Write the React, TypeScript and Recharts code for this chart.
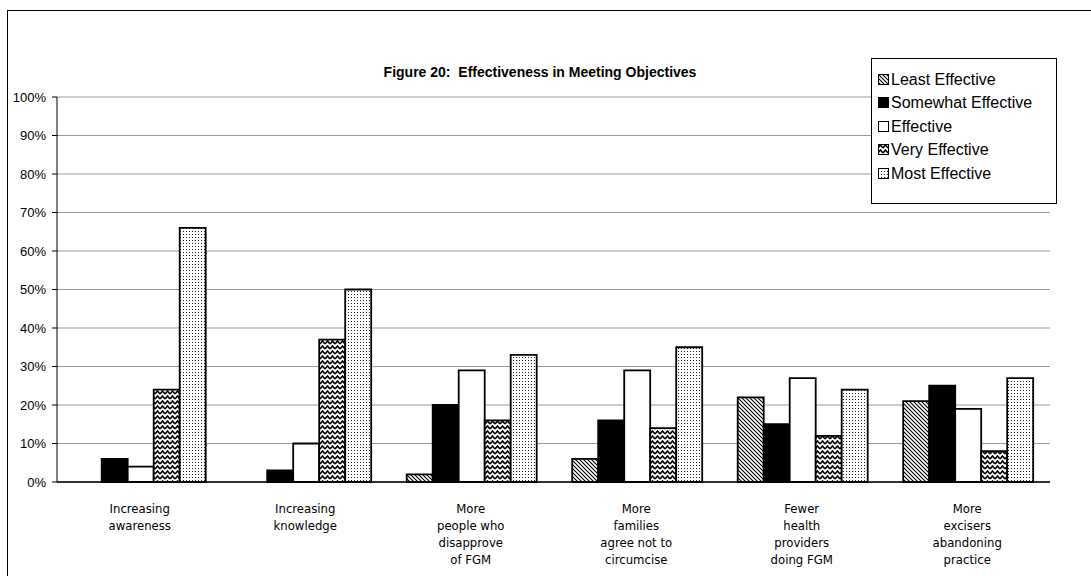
import React from "react";
import { BarChart, Bar, XAxis, YAxis, CartesianGrid, Legend } from "recharts";

const categories = [
  "Increasing\nawareness",
  "Increasing\nknowledge",
  "More\npeople who\ndisapprove\nof FGM",
  "More\nfamilies\nagree not to\ncircumcise",
  "Fewer\nhealth\nproviders\ndoing FGM",
  "More\nexcisers\nabandoning\npractice",
];
const leastEffective = [0, 0, 2, 6, 22, 21];
const somewhatEffective = [6, 3, 20, 16, 15, 25];
const effective = [4, 10, 29, 29, 27, 19];
const veryEffective = [24, 37, 16, 14, 12, 8];
const mostEffective = [66, 50, 33, 35, 24, 27];
const yTicks = [0, 10, 20, 30, 40, 50, 60, 70, 80, 90, 100];

const seriesDefs = [
  { key: "least", name: "Least Effective", fill: "url(#patStripe)" },
  { key: "somewhat", name: "Somewhat Effective", fill: "#000000" },
  { key: "effective", name: "Effective", fill: "#ffffff" },
  { key: "very", name: "Very Effective", fill: "url(#patZig)" },
  { key: "most", name: "Most Effective", fill: "url(#patDots)" },
];

const data = categories.map((c, i) => ({
  category: c,
  least: leastEffective[i],
  somewhat: somewhatEffective[i],
  effective: effective[i],
  very: veryEffective[i],
  most: mostEffective[i],
}));

const FONT = "Arial, 'Liberation Sans', sans-serif";
const NARROW = "'Liberation Sans Narrow', 'Arial Narrow', 'DejaVu Sans Condensed', sans-serif";

const XTick = (props: any) => {
  const { x, y, payload } = props;
  const lines = String(payload.value).split("\n");
  return (
    <text x={x} y={y + 23} textAnchor="middle" fontFamily={NARROW} fontSize={13} fill="#000">
      {lines.map((l, i) => (
        <tspan key={i} x={x} dy={i === 0 ? 0 : 17}>
          {l}
        </tspan>
      ))}
    </text>
  );
};

const LegendContent = () => (
  <div
    style={{
      border: "1px solid #000",
      background: "#fff",
      width: 186,
      height: 146,
      boxSizing: "border-box",
      paddingTop: 9,
      fontFamily: FONT,
      fontSize: 16,
      color: "#000",
    }}
  >
    {seriesDefs.map((s) => (
      <div key={s.key} style={{ height: 23.5, display: "flex", alignItems: "center", paddingLeft: 6 }}>
        <svg width={12} height={12} style={{ marginRight: 1 }}>
          <rect x={0.5} y={0.5} width={10} height={10} fill={s.fill} stroke="#000" strokeWidth={1} />
        </svg>
        <span>{s.name}</span>
      </div>
    ))}
  </div>
);

export default function App() {
  return (
    <div style={{ position: "fixed", left: 0, top: 0, width: 1091, height: 576, overflow: "hidden", background: "#fff" }}>
      <div
        style={{
          position: "absolute",
          left: 7,
          top: 10,
          width: 1200,
          height: 700,
          border: "1px solid #000",
          boxSizing: "border-box",
        }}
      />
      <div
        style={{
          position: "absolute",
          left: 0,
          top: 64,
          width: 1080,
          textAlign: "center",
          fontFamily: FONT,
          fontWeight: "bold",
          fontSize: 14,
          color: "#000",
        }}
      >
        Figure 20:&nbsp; Effectiveness in Meeting Objectives
      </div>
      <div style={{ position: "absolute", left: 0, top: 0 }}>
        <BarChart
          width={1091}
          height={576}
          data={data}
          margin={{ top: 97, right: 41, bottom: 4, left: 7 }}
          barCategoryGap="11.3%"
          barGap={0}
        >
          <defs>
            <pattern id="patStripe" width={4} height={4} patternUnits="userSpaceOnUse">
              <rect width={4} height={4} fill="#fff" />
              <path d="M-1,-1 L5,5 M-1,3 L1,5 M3,-1 L5,1" stroke="#000" strokeWidth={1.1} />
            </pattern>
            <pattern id="patZig" width={5} height={5} patternUnits="userSpaceOnUse">
              <rect width={5} height={5} fill="#fff" />
              <path d="M0,4 L2.5,1 L5,4" stroke="#000" strokeWidth={1.6} fill="none" />
            </pattern>
            <pattern id="patDots" width={3} height={3} patternUnits="userSpaceOnUse">
              <rect width={3} height={3} fill="#fff" />
              <rect x={0} y={0} width={1} height={1} fill="#222" />
            </pattern>
          </defs>
          <CartesianGrid vertical={false} stroke="#999" />
          <XAxis
            dataKey="category"
            height={90}
            interval={0}
            tick={<XTick />}
            tickLine={false}
            axisLine={{ stroke: "#000", strokeWidth: 1.5 }}
          />
          <YAxis
            width={50}
            domain={[0, 100]}
            ticks={yTicks}
            tickFormatter={(v: number) => `${v}%`}
            tick={{ fontFamily: FONT, fontSize: 13, fill: "#000" }}
            tickLine={{ stroke: "#000" }}
            tickSize={5}
            tickMargin={6}
            axisLine={{ stroke: "#000" }}
            interval={0}
          />
          <Legend
            verticalAlign="middle"
            align="center"
            layout="horizontal"
            content={<LegendContent />}
            wrapperStyle={{ position: "absolute", left: 871, top: 58, width: 186, height: 146 }}
          />
          {seriesDefs.map((s) => (
            <Bar
              key={s.key}
              dataKey={s.key}
              name={s.name}
              fill={s.fill}
              stroke="#000"
              strokeWidth={1.8}
              isAnimationActive={false}
            />
          ))}
        </BarChart>
      </div>
    </div>
  );
}
